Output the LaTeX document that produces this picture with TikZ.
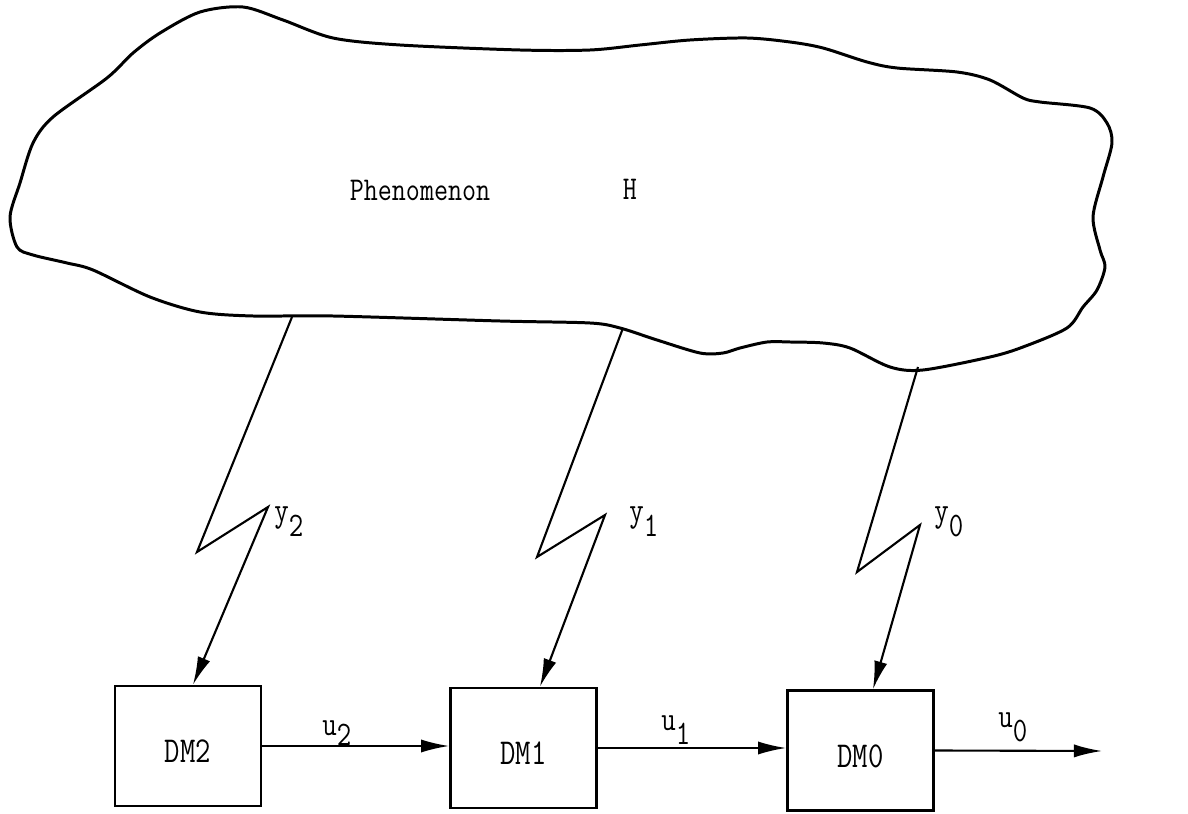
\documentclass[tikz,border=0pt]{standalone}
\usetikzlibrary{arrows.meta,calc}
\newcommand{\tall}[1]{\scalebox{1}[1.22]{#1}}
\begin{document}
\begin{tikzpicture}[x=0.02cm,y=-0.02cm,
  cloudline/.style={line width=1.7pt, line join=round},
  dmbox/.style={draw, line width=1.5pt, minimum width=2.92cm, minimum height=2.4cm, inner sep=0pt,
    font=\ttfamily\fontsize{17}{20}\selectfont, text height=19pt, text depth=0pt},
  sig/.style={line width=1.2pt, line join=miter, -{Latex[length=16pt,width=7.5pt]}},
  lbl/.style={font=\ttfamily\fontsize{16}{19}\selectfont, inner sep=0pt, anchor=base west},
  ttl/.style={font=\ttfamily\fontsize{15.5}{18}\selectfont, inner sep=0pt, anchor=base}]
\useasboundingbox (0,0) rectangle (1188,814);

% the phenomenon (cloud)
\draw[cloudline] plot[smooth cycle, tension=0.5] coordinates {
 (243,7) (283,20) (333,38) (400,45) (520,50) (590,50) (640,45) (690,40) (747,38)
 (790,42) (823,48) (867,62) (897,68) (957,72) (990,80) (1023,98) (1040,102)
 (1090,108) (1107,123) (1112,143) (1103,177) (1093,217) (1100,250) (1105,267)
 (1097,290) (1083,307) (1067,328) (1023,347) (990,357) (923,370) (890,367)
 (850,348) (823,343) (790,342) (767,342) (740,348) (723,353) (700,353) (657,340)
 (620,328) (590,323) (500,321) (333,316) (253,316) (200,312) (150,297) (93,270)
 (67,263) (33,255) (17,247) (10,217) (20,183) (33,143) (53,117) (107,78) (133,53)
 (160,33) (200,12)};
\node[ttl] (phen) at (420,201) {\tall{Phenomenon}};
\node[ttl] (hh) at (630,200) {\tall{H}};

% decision makers
\node[dmbox] (dm2) at (188,746) {\tall{DM2}};
\node[dmbox] (dm1) at (523.5,748) {\tall{DM1}};
\node[dmbox] (dm0) at (860.5,750.5) {\tall{DM0}};

% observation channels
\coordinate (s2) at (292,317); \coordinate (a2) at (197,552); \coordinate (b2) at (268,507);
\coordinate (s1) at (623,328); \coordinate (a1) at (537,557); \coordinate (b1) at (605,515);
\coordinate (s0) at (918,367); \coordinate (a0) at (857,572); \coordinate (b0) at (920,525);
\draw[sig] (s2) -- (a2) -- (b2) -- ($(dm2.north)+(5,0)$);
\draw[sig] (s1) -- (a1) -- (b1) -- ($(dm1.north)+(16.5,0)$);
\draw[sig] (s0) -- (a0) -- (b0) -- ($(dm0.north)+(12.5,0)$);
\node[lbl] (y2) at (274,521) {\tall{y}\raisebox{-9pt}{\tall{2}}};
\node[lbl] (y1) at (629,521) {\tall{y}\raisebox{-9pt}{\tall{1}}};
\node[lbl] (y0) at (934,521) {\tall{y}\raisebox{-9pt}{\tall{0}}};

% decisions
\coordinate (out) at (1102,751);
\draw[sig] (dm2.east) -- (dm2.east -| dm1.west);
\draw[sig] (dm1.east) -- (dm1.east -| dm0.west);
\draw[sig] (dm0.east) -- (out);
\node[lbl] (u2) at (322,735) {\tall{u}\raisebox{-6pt}{\tall{2}}};
\node[lbl] (u1) at (661,730) {\tall{u}\raisebox{-8pt}{\tall{1}}};
\node[lbl] (u0) at (998,727) {\tall{u}\raisebox{-8.5pt}{\tall{0}}};
\end{tikzpicture}
\end{document}
